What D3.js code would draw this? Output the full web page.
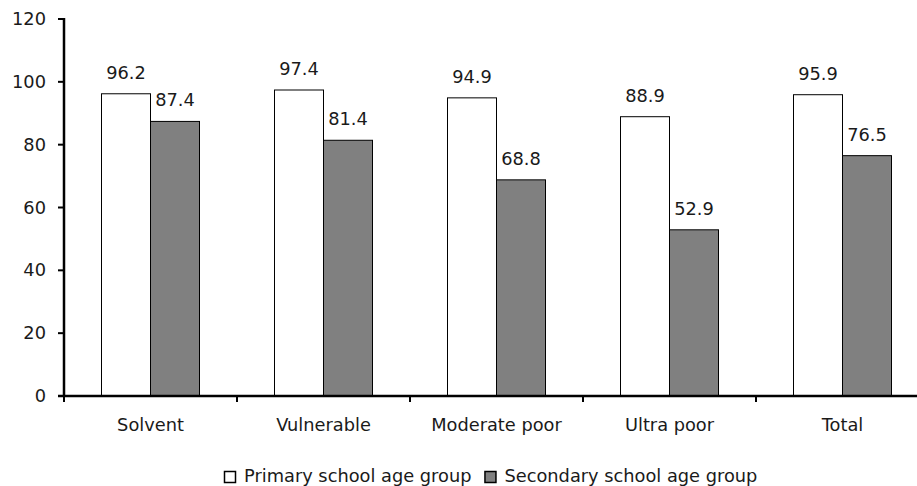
<!DOCTYPE html>
<html>
<head>
<meta charset="utf-8">
<script src="https://cdn.jsdelivr.net/npm/d3@7"></script>
<style>
  body { margin: 0; background: #fff; }
  svg { display: block; font-family: "DejaVu Sans", sans-serif; }
</style>
</head>
<body>
<svg id="chart" width="917" height="486"></svg>
<script>
const categories = ["Solvent", "Vulnerable", "Moderate poor", "Ultra poor", "Total"];
const primary = [96.2, 97.4, 94.9, 88.9, 95.9];
const secondary = [87.4, 81.4, 68.8, 52.9, 76.5];
const seriesNames = ["Primary school age group", "Secondary school age group"];
const seriesColors = ["#ffffff", "#808080"];
const yTicks = [0, 20, 40, 60, 80, 100, 120];

const svg = d3.select("#chart");
const plotLeft = 64, plotTop = 19, plotBottom = 396, bandW = 173;
const fontSize = 17.8, textColor = "#1a1a1a";

const x = d3.scaleBand()
  .domain(categories)
  .range([plotLeft, plotLeft + bandW * categories.length])
  .paddingInner(0).paddingOuter(0);

const y = d3.scaleLinear().domain([0, 120]).range([plotBottom, plotTop]);

// two bars of 49px centred in each category band
const inner = d3.scaleBand()
  .domain([0, 1])
  .range([0, bandW])
  .paddingInner(0)
  .paddingOuter(0.5 * (bandW - 98) / 49);

const series = [primary, secondary];

const g = svg.append("g");
series.forEach((vals, si) => {
  g.selectAll(".bar" + si)
    .data(vals)
    .enter().append("rect")
    .attr("x", (d, i) => x(categories[i]) + inner(si))
    .attr("y", d => y(d))
    .attr("width", inner.bandwidth())
    .attr("height", d => y(0) - y(d))
    .attr("fill", seriesColors[si])
    .attr("stroke", "#000")
    .attr("stroke-width", 1);

  g.selectAll(".lab" + si)
    .data(vals)
    .enter().append("text")
    .attr("x", (d, i) => x(categories[i]) + inner(si) + inner.bandwidth() / 2)
    .attr("y", d => y(d) - 15)
    .attr("text-anchor", "middle")
    .attr("font-size", fontSize)
    .attr("fill", textColor)
    .text(d => d.toFixed(1));
});

// y axis
const yAxis = svg.append("g");
yAxis.append("line")
  .attr("x1", plotLeft).attr("x2", plotLeft)
  .attr("y1", y(120) - 1).attr("y2", y(0))
  .attr("stroke", "#000").attr("stroke-width", 2.5);
yAxis.selectAll(".yt").data(yTicks).enter().append("line")
  .attr("x1", plotLeft - 6).attr("x2", plotLeft)
  .attr("y1", d => y(d)).attr("y2", d => y(d))
  .attr("stroke", "#000").attr("stroke-width", 2);
yAxis.selectAll(".yl").data(yTicks).enter().append("text")
  .attr("x", 46).attr("y", d => y(d) + 6)
  .attr("text-anchor", "end")
  .attr("font-size", fontSize)
  .attr("fill", textColor)
  .text(d => d);

// x axis
const xAxis = svg.append("g");
xAxis.append("line")
  .attr("x1", plotLeft - 6).attr("x2", 917)
  .attr("y1", y(0)).attr("y2", y(0))
  .attr("stroke", "#000").attr("stroke-width", 2.5);
const bounds = categories.map(c => x(c)).concat([x(categories[categories.length - 1]) + bandW]);
xAxis.selectAll(".xt").data(bounds).enter().append("line")
  .attr("x1", d => d).attr("x2", d => d)
  .attr("y1", y(0)).attr("y2", y(0) + 6)
  .attr("stroke", "#000").attr("stroke-width", 2);
xAxis.selectAll(".xl").data(categories).enter().append("text")
  .attr("x", d => x(d) + bandW / 2)
  .attr("y", 431)
  .attr("text-anchor", "middle")
  .attr("font-size", fontSize)
  .attr("fill", textColor)
  .text(d => d);

// legend
const legend = svg.append("g");
let lx = 224;
seriesNames.forEach((name, i) => {
  legend.append("rect")
    .attr("x", lx + 0.5).attr("y", 471.5)
    .attr("width", 11).attr("height", 11)
    .attr("fill", seriesColors[i])
    .attr("stroke", "#000").attr("stroke-width", 1.5);
  const t = legend.append("text")
    .attr("x", lx + 20).attr("y", 482)
    .attr("font-size", fontSize)
    .attr("fill", textColor)
    .text(name);
  lx += 20 + t.node().getComputedTextLength() + 13;
});
</script>
</body>
</html>
